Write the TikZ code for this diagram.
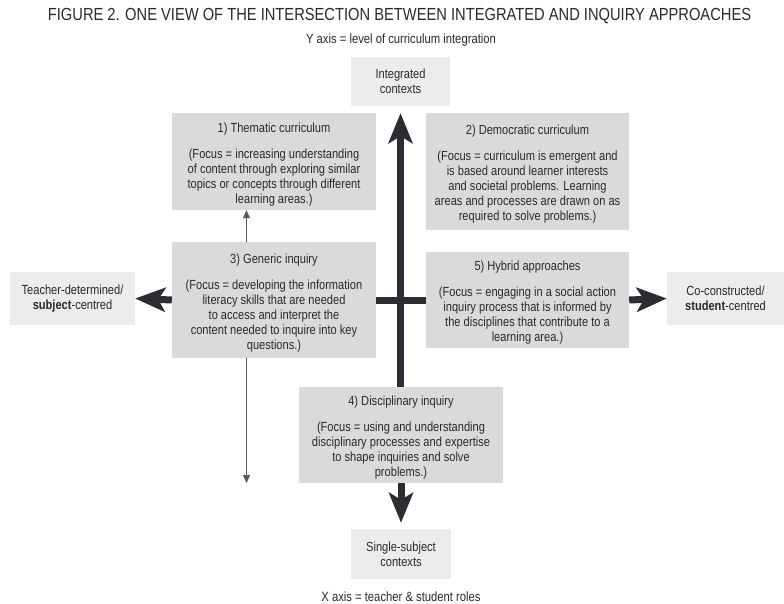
\documentclass[tikz,border=0pt]{standalone}
\usepackage{fontspec}
\setmainfont{Liberation Sans}[FakeStretch=0.84]
\usetikzlibrary{arrows.meta}
\definecolor{boxgray}{HTML}{D9DADB}
\definecolor{lightgray}{HTML}{ECECEC}
\definecolor{txt}{HTML}{2A2A2A}
\definecolor{arrowdark}{HTML}{2B2D33}
\tikzset{
  bigbox/.style={fill=boxgray, inner sep=0pt},
  boxtext/.style={inner sep=0pt, align=center, text=txt,
    font=\fontsize{13.2}{15}\selectfont},
  endbox/.style={fill=lightgray, inner sep=0pt, align=center, text=txt,
    font=\fontsize{13.2}{15}\selectfont},
  label/.style={text=txt, inner sep=0pt},
  thick arrow/.style={draw=arrowdark, line width=7pt,
    -{Stealth[length=30pt,width=24pt,inset=7pt]}},
  thick line/.style={draw=arrowdark, line width=7pt},
  thin arrow/.style={draw=black!65, line width=0.9pt,
    -{Triangle[length=8pt,width=7pt]}}
}
\begin{document}
\begin{tikzpicture}[x=1pt,y=-1pt]
\useasboundingbox (0,0) rectangle (784,604);
\fill[white] (0,0) rectangle (784,604);
% title and axis labels
\node[label, font=\fontsize{17.5}{20}\selectfont] (title) at (399.5,16)
  {FIGURE 2. ONE VIEW OF THE INTERSECTION BETWEEN INTEGRATED AND INQUIRY APPROACHES};
\node[label, font=\fontsize{13.4}{15}\selectfont] (yax) at (401,40)
  {Y axis = level of curriculum integration};
\node[label, font=\fontsize{13.4}{15}\selectfont] (xax) at (401,597)
  {X axis = teacher \& student roles};
% end boxes
\node[endbox, minimum width=99pt, minimum height=49pt] (top) at (400.5,81.5)
  {Integrated\\contexts};
\node[endbox, minimum width=100pt, minimum height=50pt] (bot) at (401,554)
  {Single-subject\\contexts};
\node[endbox, minimum width=125pt, minimum height=53pt] (left) at (72.5,298.5)
  {Teacher-determined/\\\textbf{subject}-centred};
\node[endbox, minimum width=117pt, minimum height=53pt] (right) at (725.5,298.5)
  {Co-constructed/\\\textbf{student}-centred};
% main boxes
\node[bigbox, minimum width=204pt, minimum height=97pt] (b1) at (274,161.5) {};
\node[boxtext] (t1) at ([yshift=-3pt]b1.center)
  {1) Thematic curriculum\\[11pt]
   (Focus = increasing understanding\\of content through exploring similar\\
   topics or concepts through different\\learning areas.)};
\node[bigbox, minimum width=203pt, minimum height=117pt] (b2) at (527.5,171.5) {};
\node[boxtext] (t2) at ([yshift=-3pt]b2.center)
  {2) Democratic curriculum\\[11pt]
   (Focus = curriculum is emergent and\\is based around learner interests\\
   and societal problems. Learning\\areas and processes are drawn on as\\
   required to solve problems.)};
\node[bigbox, minimum width=204pt, minimum height=116pt] (b3) at (274,300) {};
\node[boxtext] (t3) at ([yshift=-3pt]b3.center)
  {3) Generic inquiry\\[11pt]
   (Focus = developing the information\\literacy skills that are needed\\
   to access and interpret the\\content needed to inquire into key\\questions.)};
\node[bigbox, minimum width=203pt, minimum height=96pt] (b5) at (527.5,300) {};
\node[boxtext] (t5) at ([yshift=-3pt]b5.center)
  {5) Hybrid approaches\\[11pt]
   (Focus = engaging in a social action\\inquiry process that is informed by\\
   the disciplines that contribute to a\\learning area.)};
\node[bigbox, minimum width=204pt, minimum height=96pt] (b4) at (401,435) {};
\node[boxtext] (t4) at ([yshift=-3pt]b4.center)
  {4) Disciplinary inquiry\\[11pt]
   (Focus = using and understanding\\disciplinary processes and expertise\\
   to shape inquiries and solve\\problems.)};
% thick axes
\draw[thick arrow, shorten >=7pt] (b4.north -| top.south) -- (top.south);
\draw[thick arrow, shorten >=6pt] (b4.south -| bot.north) -- (bot.north);
\draw[thick line] (b3.east) -- (b5.west);
\draw[thick arrow] (b3.west) -- (left.east);
\draw[thick arrow] (b5.east) -- (right.west);
% thin arrows
\coordinate (tx) at (246.5,0);
\coordinate (tend) at (246.5,483);
\draw[thin arrow] (b3.north -| tx) -- (b1.south -| tx);
\draw[thin arrow] (b3.south -| tx) -- (tend);
\end{tikzpicture}
\end{document}
